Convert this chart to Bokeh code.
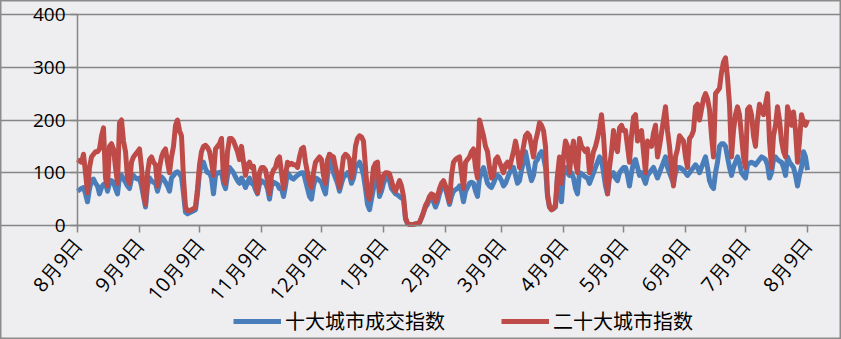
import math
from datetime import date
from bokeh.plotting import figure
from bokeh.models import Range1d, FixedTicker, Legend, LegendItem, ColumnDataSource
from bokeh.embed import file_html
from bokeh.resources import INLINE

start_date = date(2012, 8, 9)
tick_dates = [date(2012, 8, 9), date(2012, 9, 9), date(2012, 10, 9), date(2012, 11, 9),
              date(2012, 12, 9), date(2013, 1, 9), date(2013, 2, 9), date(2013, 3, 9),
              date(2013, 4, 9), date(2013, 5, 9), date(2013, 6, 9), date(2013, 7, 9),
              date(2013, 8, 9)]
tick_labels = ["8月9日", "9月9日", "10月9日", "11月9日", "12月9日", "1月9日", "2月9日",
               "3月9日", "4月9日", "5月9日", "6月9日", "7月9日", "8月9日"]
y_ticks = [0, 100, 200, 300, 400]
series_names = ["十大城市成交指数", "二十大城市指数"]

# 十大城市成交指数 (daily, 8/9 .. 8/9)
ten_city = [
    65, 68, 70, 72, 60, 45, 70, 85, 88, 80,
    75, 60, 72, 78, 80, 65, 80, 85, 82, 70,
    60, 92, 95, 88, 82, 75, 70, 88, 95, 90,
    88, 90, 75, 55, 35, 75, 90, 85, 82, 80,
    65, 80, 92, 88, 82, 75, 65, 90, 95, 100,
    102, 98, 92, 60, 25, 22, 24, 26, 28, 30,
    60, 100, 115, 120, 108, 100, 100, 90, 60, 95,
    100, 100, 102, 80, 70, 95, 110, 105, 100, 92,
    85, 80, 90, 82, 72, 82, 90, 80, 78, 68,
    60, 78, 85, 82, 80, 70, 50, 75, 82, 80,
    78, 70, 70, 55, 75, 100, 95, 90, 88, 92,
    95, 98, 100, 100, 85, 70, 55, 50, 75, 90,
    88, 85, 82, 70, 60, 95, 135, 125, 100, 90,
    80, 65, 80, 92, 95, 100, 95, 80, 90, 110,
    115, 120, 110, 95, 70, 40, 30, 50, 70, 90,
    100, 55, 65, 80, 90, 95, 85, 70, 65, 60,
    58, 55, 52, 50, 12, 4, 2, 2, 2, 3,
    4, 5, 14, 25, 35, 40, 50, 52, 45, 35,
    45, 60, 70, 75, 70, 55, 40, 55, 65, 68,
    70, 75, 65, 45, 65, 72, 80, 82, 80, 65,
    55, 90, 100, 110, 95, 80, 75, 72, 80, 90,
    95, 92, 85, 75, 80, 90, 100, 105, 110, 95,
    80, 85, 105, 120, 140, 120, 100, 85, 95, 120,
    125, 135, 140, 130, 110, 55, 35, 30, 32, 35,
    95, 70, 45, 100, 110, 100, 95, 100, 90, 70,
    60, 100, 98, 95, 92, 90, 80, 90, 100, 110,
    120, 130, 125, 100, 75, 60, 90, 95, 100, 90,
    85, 100, 105, 110, 110, 95, 75, 100, 120, 125,
    110, 95, 100, 90, 80, 95, 100, 105, 110, 100,
    90, 100, 110, 120, 130, 110, 100, 90, 80, 100,
    110, 110, 108, 105, 100, 95, 100, 105, 110, 115,
    110, 100, 110, 120, 130, 110, 85, 75, 70, 100,
    120, 150, 155, 155, 150, 130, 110, 95, 110, 120,
    130, 120, 100, 95, 90, 115, 118, 120, 118, 115,
    120, 125, 130, 128, 125, 115, 90, 100, 125, 130,
    125, 122, 120, 110, 95, 130, 120, 115, 110, 95,
    75, 95, 110, 140, 130, 105,
]

# 二十大城市指数 (daily, 8/9 .. 8/9)
twenty_city = [
    125, 122, 120, 135, 100, 62, 110, 130, 135, 140,
    140, 145, 170, 185, 90, 75, 150, 155, 145, 110,
    80, 195, 200, 160, 140, 90, 80, 120, 130, 135,
    140, 145, 110, 60, 40, 100, 125, 130, 120, 115,
    75, 110, 130, 140, 145, 120, 100, 130, 150, 190,
    200, 180, 170, 90, 35, 28, 28, 30, 32, 35,
    70, 115, 140, 150, 152, 148, 140, 120, 95, 145,
    150, 155, 165, 90, 80, 140, 165, 165, 160, 150,
    140, 125, 150, 120, 95, 115, 120, 110, 112, 80,
    62, 100, 110, 110, 105, 85, 60, 95, 105, 110,
    125, 130, 100, 70, 95, 120, 115, 118, 115, 115,
    110, 130, 145, 148, 120, 100, 80, 72, 100, 120,
    125, 130, 125, 95, 80, 125, 135, 132, 130, 110,
    95, 72, 100, 130, 135, 132, 125, 90, 110, 150,
    165, 170, 168, 160, 110, 60, 50, 75, 110, 118,
    120, 65, 80, 95, 100, 100, 98, 85, 70, 65,
    75, 85, 75, 55, 15, 4, 2, 2, 2, 3,
    4, 6, 15, 25, 38, 45, 55, 60, 58, 45,
    55, 70, 80, 85, 75, 60, 45, 95, 120, 125,
    128, 130, 100, 70, 120, 125, 130, 140, 145, 110,
    90, 200, 185, 170, 150, 140, 110, 90, 95, 125,
    130, 120, 110, 100, 115, 120, 110, 125, 140, 160,
    140, 110, 130, 150, 170, 175, 170, 150, 130, 160,
    175, 195, 190, 180, 150, 60, 35, 30, 32, 40,
    95, 130, 80, 130, 160, 150, 100, 140, 160, 120,
    100, 165, 150, 145, 140, 145, 100, 120, 140, 150,
    165, 185, 210, 170, 110, 60, 110, 140, 180, 150,
    140, 185, 190, 180, 180, 150, 120, 170, 205, 210,
    160, 170, 180, 140, 100, 160, 155, 150, 175, 190,
    130, 150, 175, 200, 225, 180, 150, 110, 75, 130,
    145, 170, 165, 160, 130, 110, 165, 170, 180, 225,
    230, 200, 220, 240, 250, 240, 220, 170, 130, 250,
    255, 260, 290, 310, 318, 280, 230, 130, 180, 210,
    225, 210, 170, 130, 110, 220, 225, 210, 170, 150,
    200, 230, 220, 210, 230, 250, 160, 110, 170, 190,
    225, 200, 160, 140, 130, 225, 210, 190, 215, 180,
    120, 160, 210, 195, 190, 200,
]

BG = "#eeeef0"
AXIS = "#868686"
BLUE = "#4a7ebb"
RED = "#be4b48"

n = len(ten_city)
day_index = list(range(n))
tick_pos = [(d - start_date).days for d in tick_dates]

# Layout (pixels): plot area spans x 77..807 and y 14..225; the whole canvas is the frame
W, H = 841, 339
AREA_L, AREA_R, AREA_T, AREA_B = 77, 807, 14, 225
x0, x1 = tick_pos[0], tick_pos[-1]
y0, y1 = y_ticks[0], y_ticks[-1]
px_x = (AREA_R - AREA_L) / (x1 - x0)
px_y = (AREA_B - AREA_T) / (y1 - y0)
x_lo = x0 - AREA_L / px_x
x_hi = x1 + (W - AREA_R) / px_x
y_hi = y1 + AREA_T / px_y
y_lo = y0 - (H - AREA_B) / px_y

src = ColumnDataSource(dict(x=day_index, ten=ten_city, twenty=twenty_city))

p = figure(width=W, height=H, output_backend="svg", toolbar_location=None,
           x_range=Range1d(x_lo, x_hi), y_range=Range1d(y_lo, y_hi),
           min_border=0, background_fill_color=BG, border_fill_color=BG)
p.outline_line_color = "#8c8c8c"
p.outline_line_width = 2

r_blue = p.line("x", "ten", source=src, line_color=BLUE, line_width=5, line_join="round")
r_red = p.line("x", "twenty", source=src, line_color=RED, line_width=5, line_join="round")

p.xaxis.ticker = FixedTicker(ticks=tick_pos)
p.xaxis.major_label_overrides = {pos: lab for pos, lab in zip(tick_pos, tick_labels)}
p.xaxis.major_label_orientation = 0.87
p.xaxis.fixed_location = y0
p.xaxis.bounds = (x0, x1)
p.yaxis.ticker = FixedTicker(ticks=y_ticks)
p.yaxis.fixed_location = x0
p.yaxis.bounds = (y0, y1)

for ax in (p.xaxis[0], p.yaxis[0]):
    ax.axis_line_color = AXIS
    ax.axis_line_width = 1.5
    ax.major_tick_line_color = AXIS
    ax.major_tick_line_width = 1.5
    ax.major_tick_in = 0
    ax.major_tick_out = 7
    ax.minor_tick_line_color = None
    ax.major_label_text_color = "#000000"
    ax.major_label_text_font = "Open Sans"

p.yaxis[0].major_label_text_font_size = "19px"
p.yaxis[0].major_label_standoff = 5
p.xaxis[0].major_label_text_font_size = "20px"
p.xaxis[0].major_label_standoff = 8

p.xgrid.visible = False
p.ygrid.grid_line_color = AXIS
p.ygrid.grid_line_width = 1.5
p.ygrid.bounds = (x0, x1)

legend = Legend(items=[LegendItem(label=series_names[0], renderers=[r_blue]),
                       LegendItem(label=series_names[1], renderers=[r_red])],
                orientation="horizontal", location=(AREA_L + 156, 4),
                glyph_width=48, glyph_height=20, label_standoff=4, spacing=56,
                padding=0, margin=0, border_line_color=None, background_fill_alpha=0,
                label_text_font="Noto Sans CJK SC", label_text_font_size="20px",
                label_text_color="#000000")
p.add_layout(legend, "center")

open("out.html", "w").write(file_html(p, INLINE))
